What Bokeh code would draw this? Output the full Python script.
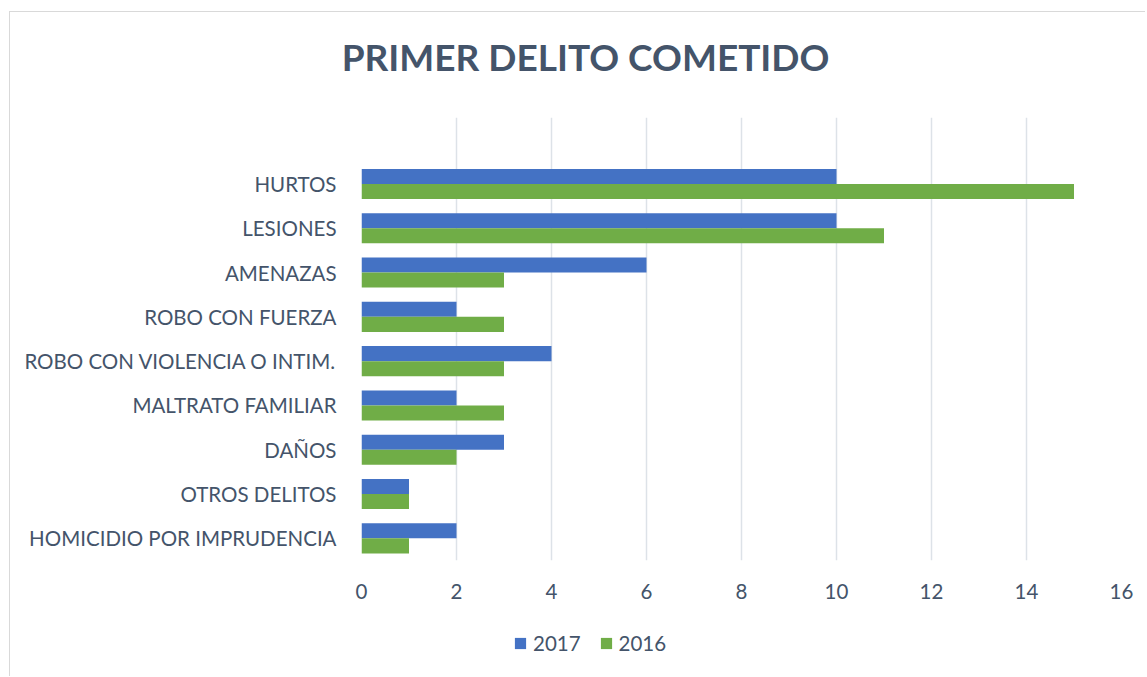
from bokeh.plotting import figure
from bokeh.layouts import column
from bokeh.models import (FactorRange, ColumnDataSource, Legend, LegendItem, Label,
                          FixedTicker, Range1d)
from bokeh.transform import dodge
from bokeh.embed import file_html
from bokeh.resources import INLINE

# ---- data ----
categories = ["HURTOS", "LESIONES", "AMENAZAS", "ROBO CON FUERZA",
              "ROBO CON VIOLENCIA O INTIM.", "MALTRATO FAMILIAR", "DAÑOS",
              "OTROS DELITOS", "HOMICIDIO POR IMPRUDENCIA"]
values_2017 = [10, 10, 6, 2, 4, 2, 3, 1, 2]
values_2016 = [15, 11, 3, 3, 3, 3, 2, 1, 1]
series_names = ["2017", "2016"]
x_ticks = [0, 2, 4, 6, 8, 10, 12, 14, 16]
title_text = "PRIMER DELITO COMETIDO"

TEXT = "#44546A"
BLUE = "#4472C4"
GREEN = "#70AD47"
GRID = "#DDE2E8"
FONT = "Lato"
W = 1135


def blank_fig(h):
    f = figure(width=W, height=h, x_range=Range1d(0, 1), y_range=Range1d(0, 1),
               x_axis_type=None, y_axis_type=None, output_backend="svg",
               toolbar_location=None, min_border=0, frame_align=False)
    f.outline_line_color = None
    f.grid.visible = False
    return f


# ---- title ----
tf = blank_fig(105)
tf.add_layout(Label(x=575, y=61, x_units="screen", y_units="screen", text=title_text,
                    text_align="center", text_baseline="middle", text_font=FONT,
                    text_font_style="bold", text_font_size="37px", text_color=TEXT))

# ---- main chart ----
factors = list(reversed(categories)) + [" "]
src = ColumnDataSource(dict(cat=categories, v17=values_2017, v16=values_2016))

p = figure(width=W, height=493, y_range=FactorRange(*factors, range_padding=0),
           x_range=(0, 16), output_backend="svg", toolbar_location=None,
           min_border_left=351, min_border_right=24, min_border_top=0,
           min_border_bottom=50, frame_align=False)
p.y_range.factor_padding = 0

r17 = p.hbar(y=dodge("cat", 0.17, range=p.y_range), right="v17", left=0, height=0.34,
             source=src, fill_color=BLUE, line_color=None)
r16 = p.hbar(y=dodge("cat", -0.17, range=p.y_range), right="v16", left=0, height=0.34,
             source=src, fill_color=GREEN, line_color=None)

p.outline_line_color = None
p.ygrid.grid_line_color = None
p.xgrid.grid_line_color = GRID
p.xgrid.grid_line_width = 1.5
p.xaxis.ticker = FixedTicker(ticks=x_ticks)

for ax in (p.xaxis[0], p.yaxis[0]):
    ax.axis_line_color = None
    ax.major_tick_line_color = None
    ax.minor_tick_line_color = None
    ax.major_label_text_color = TEXT
    ax.major_label_text_font = FONT
    ax.major_label_text_font_size = "20.5px"
p.xaxis.major_label_standoff = 17
p.yaxis.major_label_standoff = 19

# ---- legend (zero-width proxy swatches, only used for the legend glyph colours) ----
lf = blank_fig(66)
d17 = lf.hbar(y=[5], right=[0], left=0, height=0.1, fill_color=r17.glyph.fill_color,
              line_color=None)
d16 = lf.hbar(y=[5], right=[0], left=0, height=0.1, fill_color=r16.glyph.fill_color,
              line_color=None)
legend = Legend(items=[LegendItem(label=series_names[0], renderers=[d17]),
                       LegendItem(label=series_names[1], renderers=[d16])],
                orientation="horizontal", location=(503, 21),
                label_text_font=FONT, label_text_font_size="20.5px", label_text_color=TEXT,
                glyph_width=14, glyph_height=14, label_standoff=6, spacing=18,
                padding=0, margin=0, border_line_color=None, background_fill_alpha=0)
lf.add_layout(legend, "center")

layout = column(tf, p, lf, spacing=0)
layout.styles = {"border-left": "1px solid #D9D9D9", "border-top": "1px solid #D9D9D9",
                 "margin-top": "11px", "margin-left": "9px"}

open("out.html", "w").write(file_html(layout, INLINE))
